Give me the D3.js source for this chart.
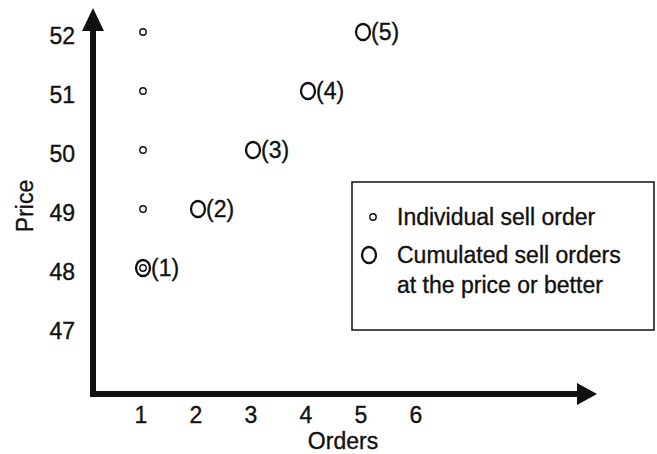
<!DOCTYPE html>
<html>
<head>
<meta charset="utf-8">
<script src="https://cdn.jsdelivr.net/npm/d3@7"></script>
<style>
	body { margin: 0; background: #fff; }
	text { font-family: "Liberation Sans", Arial, sans-serif; fill: #111; stroke: #111; stroke-width: 0.35px; }
</style>
</head>
<body>
<svg id="chart"></svg>
<script>
// data
let prices = [48, 49, 50, 51, 52];
let individualOrders = [1, 1, 1, 1, 1];
let cumulatedOrders = [1, 2, 3, 4, 5];
let xTicks = [1, 2, 3, 4, 5, 6];
let yTicks = [47, 48, 49, 50, 51, 52];

function makeChart() {
	let w = 657;
	let h = 454;
	let fs = 23;

	let x = d3.scaleLinear().domain([1, 6]).range([141, 416]);
	let y = d3.scaleLinear().domain([48, 52]).range([268, 32]);

	let chart = d3.select('#chart')
		.attr('width', w)
		.attr('height', h);

	let ink = '#111';
	let x0 = 93, yAxis = 394;

	// axes lines
	chart.append('line')
		.attr('x1', x0).attr('y1', yAxis + 3)
		.attr('x2', x0).attr('y2', 26)
		.attr('stroke', ink).attr('stroke-width', 6);
	chart.append('line')
		.attr('x1', x0 - 3).attr('y1', yAxis)
		.attr('x2', 580).attr('y2', yAxis)
		.attr('stroke', ink).attr('stroke-width', 6);

	// arrow heads
	chart.append('path')
		.attr('d', `M${x0},8 L${x0 + 11},31 L${x0 - 11},31 Z`)
		.attr('fill', ink);
	chart.append('path')
		.attr('d', `M597,${yAxis} L577,${yAxis - 11} L577,${yAxis + 11} Z`)
		.attr('fill', ink);

	// tick labels
	chart.append('g')
		.selectAll('text')
		.data(xTicks)
		.enter()
		.append('text')
		.attr('x', d => x(d))
		.attr('y', 415)
		.attr('dy', '0.35em')
		.attr('text-anchor', 'middle')
		.attr('font-size', fs)
		.text(d => d);

	chart.append('g')
		.selectAll('text')
		.data(yTicks)
		.enter()
		.append('text')
		.attr('x', 75)
		.attr('y', d => y(d) + 4)
		.attr('dy', '0.35em')
		.attr('text-anchor', 'end')
		.attr('font-size', fs)
		.text(d => d);

	// axis titles
	chart.append('text')
		.attr('x', 343).attr('y', 441)
		.attr('dy', '0.35em')
		.attr('text-anchor', 'middle')
		.attr('font-size', fs)
		.text('Orders');
	chart.append('text')
		.attr('transform', 'translate(25,206) rotate(-90)')
		.attr('dy', '0.35em')
		.attr('text-anchor', 'middle')
		.attr('font-size', fs)
		.text('Price');

	// individual sell orders
	chart.append('g')
		.selectAll('circle')
		.data(prices)
		.enter()
		.append('circle')
		.attr('cx', (d, i) => x(individualOrders[i]) + 2)
		.attr('cy', d => y(d))
		.attr('r', 3.2)
		.attr('fill', 'none')
		.attr('stroke', ink)
		.attr('stroke-width', 1.4);

	// cumulated sell orders
	let cum = chart.append('g')
		.selectAll('g')
		.data(prices)
		.enter()
		.append('g');
	cum.append('ellipse')
		.attr('cx', (d, i) => x(cumulatedOrders[i]) + 2)
		.attr('cy', d => y(d))
		.attr('rx', 7)
		.attr('ry', 8)
		.attr('fill', 'none')
		.attr('stroke', ink)
		.attr('stroke-width', 2.3);
	cum.append('text')
		.attr('x', (d, i) => x(cumulatedOrders[i]) + 10)
		.attr('y', d => y(d))
		.attr('dy', '0.35em')
		.attr('font-size', fs)
		.text((d, i) => `(${cumulatedOrders[i]})`);

	// legend
	let legend = chart.append('g');
	legend.append('rect')
		.attr('x', 352).attr('y', 182)
		.attr('width', 302).attr('height', 148)
		.attr('fill', 'none')
		.attr('stroke', ink)
		.attr('stroke-width', 1.5);
	legend.append('circle')
		.attr('cx', 373).attr('cy', 217).attr('r', 3.2)
		.attr('fill', 'none').attr('stroke', ink).attr('stroke-width', 1.4);
	legend.append('ellipse')
		.attr('cx', 369).attr('cy', 255).attr('rx', 7).attr('ry', 8)
		.attr('fill', 'none').attr('stroke', ink).attr('stroke-width', 2.3);
	let lines = [['Individual sell order', 217], ['Cumulated sell orders', 255], ['at the price or better', 285]];
	legend.selectAll('text.lg')
		.data(lines)
		.enter()
		.append('text')
		.attr('x', 397)
		.attr('y', d => d[1])
		.attr('dy', '0.35em')
		.attr('font-size', fs)
		.text(d => d[0]);
}

window.onload = function () {
	makeChart();
}
</script>
</body>
</html>
